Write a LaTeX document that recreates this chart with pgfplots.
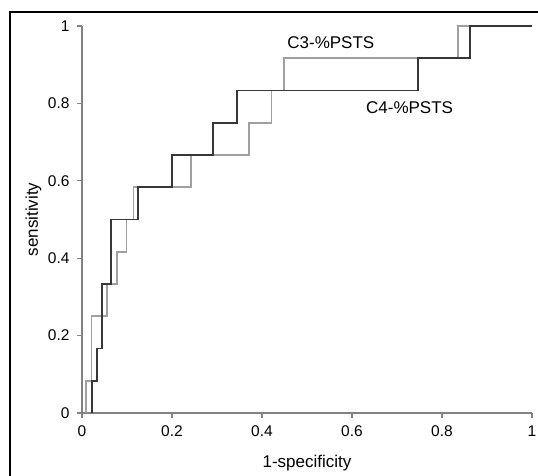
\documentclass[border=0pt]{standalone}
\usepackage{fontspec}
\setmainfont{Liberation Sans}
\usepackage{pgfplots}
\pgfplotsset{compat=1.18}
\definecolor{cthree}{RGB}{160,160,160}
\definecolor{cfour}{RGB}{55,55,55}
\definecolor{axgray}{RGB}{130,130,130}

% ROC step curves (1-specificity, sensitivity)
\pgfplotstableread{
x y
0.009 0
0.009 0.0833
0.021 0.0833
0.021 0.25
0.056 0.25
0.056 0.3333
0.078 0.3333
0.078 0.4167
0.099 0.4167
0.099 0.5
0.114 0.5
0.114 0.5833
0.242 0.5833
0.242 0.6667
0.371 0.6667
0.371 0.75
0.4215 0.75
0.4215 0.8333
0.4495 0.8333
0.4495 0.9167
0.836 0.9167
0.836 1
1 1
}\cthree
\pgfplotstableread{
x y
0.0215 0
0.0215 0.0833
0.034 0.0833
0.034 0.1667
0.044 0.1667
0.044 0.3333
0.064 0.3333
0.064 0.5
0.125 0.5
0.125 0.5833
0.199 0.5833
0.199 0.6667
0.292 0.6667
0.292 0.75
0.344 0.75
0.344 0.8333
0.7475 0.8333
0.7475 0.9167
0.862 0.9167
0.862 1
1 1
}\cfour

\begin{document}
\begin{tikzpicture}
\useasboundingbox (0,0) rectangle (538pt,-476pt);
\draw[black, line width=1.2pt] (10pt,-476pt) -- (10pt,-12pt) -- (538pt,-12pt);
\begin{axis}[
  at={(82pt,-413pt)}, anchor=south west,
  width=450pt, height=387pt, scale only axis,
  xmin=0, xmax=1, ymin=0, ymax=1,
  axis lines=left,
  x axis line style={-}, y axis line style={-},
  axis line style={draw=axgray, line width=1.2pt},
  xtick={0,0.2,0.4,0.6,0.8,1},
  ytick={0,0.2,0.4,0.6,0.8,1},
  tick align=outside, major tick length=5pt,
  tick style={draw=axgray, line width=1.2pt},
  /pgf/number format/assume math mode=true,
  ticklabel style={font=\fontsize{15.5}{15.5}\selectfont},
  xticklabel style={yshift=-4pt},
  yticklabel style={xshift=-4pt},
  xlabel={1-specificity}, ylabel={sensitivity},
  label style={font=\fontsize{17}{17}\selectfont},
  xlabel style={at={(axis description cs:0.5,-0.129)}, anchor=center},
  ylabel style={at={(axis description cs:-0.108,0.5)}, anchor=center},
  clip=false,
]
\addplot[cthree, line width=1.6pt] table {\cthree};
\addplot[cfour, line width=1.9pt] table {\cfour};
\node[font=\fontsize{17}{17}\selectfont] at (axis cs:0.553,0.958) {C3-\%PSTS};
\node[font=\fontsize{17}{17}\selectfont] at (axis cs:0.728,0.79) {C4-\%PSTS};
\end{axis}
\end{tikzpicture}
\end{document}
